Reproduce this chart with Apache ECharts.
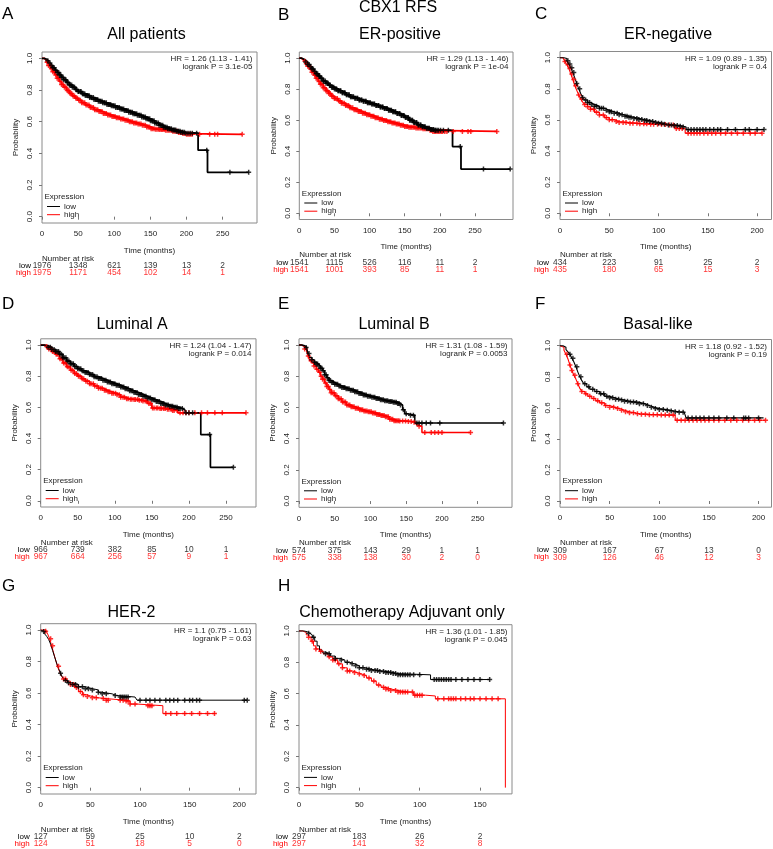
<!DOCTYPE html>
<html><head><meta charset="utf-8">
<script src="https://cdn.jsdelivr.net/npm/echarts@6/dist/echarts.min.js"></script>
<style>html,body{margin:0;padding:0;background:#fff}#c{width:773px;height:849px}</style>
</head><body><div id="c"></div>
<script>
// ---------------- DATA ----------------
const mainTitle = 'CBX1 RFS';
const panelLetters = ['A','B','C','D','E','F','G','H'];
const panelTitles = ['All patients','ER-positive','ER-negative','Luminal A','Luminal B','Basal-like','HER-2','Chemotherapy Adjuvant only'];
const hrTexts = ['HR = 1.26 (1.13 - 1.41)','HR = 1.29 (1.13 - 1.46)','HR = 1.09 (0.89 - 1.35)','HR = 1.24 (1.04 - 1.47)','HR = 1.31 (1.08 - 1.59)','HR = 1.18 (0.92 - 1.52)','HR = 1.1 (0.75 - 1.61)','HR = 1.36 (1.01 - 1.85)'];
const pTexts = ['logrank P = 3.1e-05','logrank P = 1e-04','logrank P = 0.4','logrank P = 0.014','logrank P = 0.0053','logrank P = 0.19','logrank P = 0.63','logrank P = 0.045'];
const yTicks = [0, 0.2, 0.4, 0.6, 0.8, 1.0];
const groupNames = ['low', 'high'];

const timeTicks250 = [0, 50, 100, 150, 200, 250];
const timeTicks200 = [0, 50, 100, 150, 200];
const timeTicks150 = [0, 50, 100, 150];

const riskLowA = [1976, 1348, 621, 139, 13, 2];
const riskHighA = [1975, 1171, 454, 102, 14, 1];
const riskLowB = [1541, 1115, 526, 116, 11, 2];
const riskHighB = [1541, 1001, 393, 85, 11, 1];
const riskLowC = [434, 223, 91, 25, 2];
const riskHighC = [435, 180, 65, 15, 3];
const riskLowD = [966, 739, 382, 85, 10, 1];
const riskHighD = [967, 664, 256, 57, 9, 1];
const riskLowE = [574, 375, 143, 29, 1, 1];
const riskHighE = [575, 338, 138, 30, 2, 0];
const riskLowF = [309, 167, 67, 13, 0];
const riskHighF = [309, 126, 46, 12, 3];
const riskLowG = [127, 59, 25, 10, 2];
const riskHighG = [124, 51, 18, 5, 0];
const riskLowH = [297, 183, 26, 2];
const riskHighH = [297, 141, 32, 8];

// Kaplan-Meier curves: [time (months), survival probability after that time]
const kmLowA = [[0,1],[3,0.995],[6,0.985],[9,0.97],[12,0.955],[15,0.94],[18,0.925],[21,0.91],[24,0.895],[27,0.88],[30,0.865],[34,0.848],[38,0.832],[42,0.818],[46,0.803],[50,0.79],[55,0.777],[60,0.765],[66,0.752],[72,0.74],[78,0.729],[84,0.719],[90,0.709],[96,0.7],[102,0.69],[108,0.68],[114,0.67],[120,0.66],[126,0.65],[132,0.64],[138,0.629],[144,0.618],[150,0.606],[156,0.592],[162,0.578],[168,0.565],[174,0.555],[180,0.548],[186,0.54],[192,0.533],[198,0.527],[216,0.42],[229,0.28],[286,0.28]];
const kmHighA = [[0,1],[3,0.99],[6,0.975],[9,0.955],[12,0.935],[15,0.915],[18,0.895],[21,0.875],[24,0.855],[27,0.835],[30,0.818],[34,0.797],[38,0.778],[42,0.762],[46,0.748],[50,0.735],[55,0.72],[60,0.705],[66,0.69],[72,0.676],[78,0.664],[84,0.652],[90,0.642],[96,0.633],[102,0.625],[108,0.617],[114,0.609],[120,0.6],[126,0.592],[132,0.585],[138,0.577],[144,0.567],[150,0.556],[156,0.552],[162,0.55],[170,0.546],[180,0.54],[188,0.532],[195,0.525],[200,0.52],[277,0.52]];
const kmLowB = [[0,1],[3,0.995],[6,0.985],[9,0.975],[12,0.96],[15,0.945],[18,0.93],[21,0.915],[24,0.9],[27,0.885],[30,0.87],[34,0.853],[38,0.838],[42,0.825],[46,0.813],[50,0.802],[55,0.79],[60,0.778],[66,0.765],[72,0.752],[78,0.741],[84,0.731],[90,0.722],[96,0.713],[102,0.704],[108,0.695],[114,0.686],[120,0.676],[126,0.665],[132,0.654],[138,0.643],[144,0.631],[150,0.618],[156,0.6],[162,0.585],[168,0.57],[174,0.558],[180,0.548],[186,0.54],[192,0.535],[218,0.43],[230,0.285],[300,0.285]];
const kmHighB = [[0,1],[3,0.99],[6,0.98],[9,0.965],[12,0.948],[15,0.93],[18,0.91],[21,0.89],[24,0.87],[27,0.85],[30,0.832],[34,0.81],[38,0.79],[42,0.772],[46,0.755],[50,0.74],[55,0.725],[60,0.71],[66,0.695],[72,0.68],[78,0.668],[84,0.656],[90,0.645],[96,0.635],[102,0.625],[108,0.616],[114,0.607],[120,0.598],[126,0.59],[132,0.583],[138,0.575],[144,0.567],[150,0.56],[156,0.555],[165,0.55],[175,0.545],[185,0.535],[190,0.528],[281,0.528]];
const kmLowC = [[0,1],[4,0.995],[7,0.98],[9,0.96],[11,0.935],[13,0.905],[15,0.87],[17,0.835],[19,0.8],[21,0.77],[23,0.745],[25,0.728],[28,0.712],[31,0.7],[35,0.688],[40,0.675],[45,0.663],[50,0.653],[55,0.643],[60,0.633],[65,0.624],[70,0.617],[75,0.61],[80,0.603],[85,0.597],[90,0.59],[95,0.584],[100,0.578],[105,0.572],[110,0.568],[115,0.565],[120,0.56],[125,0.555],[128,0.538],[207,0.538]];
const kmHighC = [[0,1],[3,0.99],[5,0.975],[7,0.955],[9,0.93],[11,0.895],[13,0.86],[15,0.82],[17,0.79],[19,0.76],[21,0.735],[23,0.715],[25,0.7],[28,0.685],[31,0.668],[35,0.65],[40,0.632],[45,0.615],[50,0.602],[55,0.59],[60,0.583],[70,0.578],[80,0.575],[90,0.572],[100,0.57],[110,0.567],[117,0.545],[127,0.515],[205,0.515]];
const kmLowD = [[0,1],[5,0.995],[10,0.985],[15,0.972],[20,0.958],[25,0.94],[30,0.918],[35,0.897],[40,0.88],[45,0.862],[50,0.848],[55,0.835],[60,0.823],[66,0.81],[72,0.797],[78,0.785],[84,0.774],[90,0.763],[96,0.752],[102,0.741],[108,0.73],[114,0.719],[120,0.707],[126,0.695],[132,0.683],[138,0.671],[144,0.66],[150,0.648],[156,0.637],[162,0.625],[168,0.615],[174,0.607],[180,0.6],[186,0.592],[192,0.58],[195,0.565],[216,0.425],[229,0.215],[260,0.215]];
const kmHighD = [[0,1],[5,0.99],[10,0.975],[15,0.958],[20,0.94],[25,0.912],[30,0.885],[35,0.86],[40,0.838],[45,0.817],[50,0.8],[55,0.783],[60,0.768],[66,0.752],[72,0.737],[78,0.722],[84,0.71],[90,0.7],[96,0.69],[102,0.68],[108,0.665],[114,0.655],[120,0.652],[126,0.65],[132,0.646],[138,0.64],[144,0.625],[150,0.595],[160,0.592],[170,0.588],[178,0.58],[185,0.565],[277,0.565]];
const kmLowE = [[0,1],[4,0.995],[8,0.985],[11,0.97],[13,0.945],[15,0.92],[18,0.905],[21,0.89],[24,0.878],[27,0.866],[30,0.852],[33,0.835],[36,0.81],[39,0.79],[42,0.772],[45,0.76],[50,0.748],[55,0.738],[60,0.728],[66,0.72],[72,0.71],[78,0.7],[84,0.69],[90,0.68],[96,0.672],[102,0.665],[108,0.658],[114,0.65],[120,0.643],[126,0.638],[132,0.633],[138,0.625],[142,0.615],[145,0.585],[148,0.56],[152,0.55],[162,0.5],[286,0.5]];
const kmHighE = [[0,1],[4,0.99],[8,0.975],[11,0.955],[13,0.93],[15,0.9],[18,0.885],[21,0.865],[24,0.845],[27,0.825],[30,0.8],[33,0.78],[36,0.757],[39,0.735],[42,0.715],[45,0.695],[50,0.675],[55,0.655],[60,0.635],[66,0.615],[72,0.605],[78,0.595],[84,0.585],[90,0.578],[96,0.572],[102,0.565],[108,0.555],[114,0.548],[120,0.54],[126,0.525],[132,0.515],[140,0.513],[150,0.51],[158,0.505],[164,0.49],[166,0.48],[172,0.44],[240,0.44]];
const kmLowF = [[0,1],[3,0.99],[6,0.975],[8,0.96],[10,0.945],[12,0.92],[14,0.895],[16,0.865],[18,0.83],[20,0.8],[22,0.775],[24,0.755],[27,0.735],[30,0.72],[35,0.705],[40,0.69],[45,0.675],[50,0.665],[55,0.655],[60,0.65],[65,0.642],[70,0.638],[75,0.635],[80,0.627],[85,0.615],[90,0.603],[95,0.595],[100,0.59],[105,0.585],[110,0.58],[115,0.575],[120,0.572],[125,0.565],[127,0.535],[205,0.535]];
const kmHighF = [[0,1],[2,0.99],[4,0.97],[6,0.945],[8,0.915],[10,0.875],[12,0.84],[14,0.81],[16,0.785],[18,0.755],[20,0.725],[22,0.705],[25,0.69],[28,0.675],[32,0.66],[36,0.645],[40,0.632],[45,0.615],[50,0.603],[55,0.595],[60,0.585],[65,0.575],[70,0.568],[75,0.562],[80,0.558],[90,0.555],[100,0.553],[110,0.553],[116,0.52],[207,0.52]];
const kmLowG = [[0,1],[2,0.99],[4,0.975],[6,0.96],[8,0.94],[10,0.91],[12,0.87],[14,0.83],[16,0.79],[18,0.755],[20,0.725],[22,0.7],[24,0.68],[27,0.665],[32,0.655],[38,0.64],[45,0.628],[52,0.62],[58,0.605],[62,0.595],[72,0.585],[76,0.575],[95,0.575],[97,0.555],[208,0.555]];
const kmHighG = [[0,1],[5,0.992],[7,0.975],[9,0.945],[11,0.9],[13,0.855],[15,0.81],[17,0.77],[19,0.735],[21,0.705],[23,0.69],[26,0.675],[30,0.655],[34,0.635],[38,0.61],[42,0.59],[46,0.578],[52,0.57],[58,0.565],[66,0.555],[85,0.55],[90,0.53],[98,0.52],[123,0.47],[176,0.47]];
const kmLowH = [[0,1],[4,0.995],[7,0.985],[9,0.975],[11,0.96],[13,0.935],[15,0.905],[17,0.88],[19,0.865],[22,0.855],[26,0.84],[30,0.825],[34,0.815],[38,0.8],[42,0.79],[46,0.778],[50,0.765],[55,0.755],[60,0.748],[66,0.742],[72,0.735],[78,0.728],[82,0.72],[109,0.69],[158,0.69]];
const kmHighH = [[0,1],[3,0.99],[6,0.975],[8,0.96],[10,0.935],[12,0.905],[14,0.885],[17,0.87],[20,0.855],[24,0.835],[28,0.815],[32,0.79],[36,0.765],[40,0.745],[44,0.735],[48,0.725],[52,0.715],[56,0.7],[60,0.68],[64,0.655],[68,0.64],[72,0.63],[76,0.62],[82,0.61],[90,0.61],[95,0.59],[105,0.585],[113,0.567],[171,0]];

// censoring times (months)
const censLowA = [8,11,13,15,17,19,21,23,24,26,27,29,30,32,33,35,36,38,39,41,42,44,45,47,48,50,51,53,54,56,57,59,60,62,63,65,66,68,69,71,72,74,75,77,78,80,81,83,84,86,87,89,90,92,93,95,96,98,99,101,102,104,105,107,108,110,111,113,114,116,117,119,120,122,123,125,126,128,129,131,132,134,135,137,138,140,141,143,144,146,147,149,150,152,153,155,156,158,159,161,162,164,165,167,168,170,171,173,174,176,177,179,180,182,183,185,186,188,189,191,192,194,195,197,199,202,205,208,214,228,260,286];
const censHighA = [7,9,11,13,15,17,19,21,23,25,27,29,31,33,35,37,39,41,43,45,47,49,51,53,55,57,59,61,63,65,67,69,71,73,75,77,79,81,83,85,87,89,91,93,95,97,99,101,103,105,107,109,111,113,115,117,119,121,123,125,127,129,131,133,135,137,139,141,143,145,147,149,151,153,155,157,159,161,163,165,167,169,171,173,175,177,179,181,183,185,187,189,191,193,195,197,200,202,204,206,208,218,232,239,243,277];
const censLowB = [9,12,14,16,18,20,22,24,26,28,29,31,32,34,35,37,38,40,41,43,44,46,47,49,50,52,53,55,56,58,59,61,62,64,65,67,68,70,71,73,74,76,77,79,80,82,83,85,86,88,89,91,92,94,95,97,98,100,101,103,104,106,107,109,110,112,113,115,116,118,119,121,122,124,125,127,128,130,131,133,134,136,137,139,140,142,143,145,146,148,149,151,152,154,155,157,158,160,161,163,164,166,167,169,170,172,173,175,176,178,179,181,182,184,185,187,188,190,191,193,194,196,198,201,205,212,229,262,300];
const censHighB = [8,10,12,14,16,18,20,22,24,26,28,30,32,34,36,38,40,42,44,46,48,50,52,54,56,58,60,62,64,66,68,70,72,74,76,78,80,82,84,86,88,90,92,94,96,98,100,102,104,106,108,110,112,114,116,118,120,122,124,126,128,130,132,134,136,138,140,142,144,146,148,150,152,154,156,158,160,162,164,166,168,170,172,174,176,178,180,182,184,186,188,190,192,194,196,198,200,202,204,207,210,219,232,240,244,281];
const censLowC = [8,10,12,14,17,20,23,26,28,30,32,35,37,40,42,44,47,50,52,55,58,60,63,66,68,70,72,75,78,80,83,86,88,91,94,97,100,103,106,110,113,116,119,122,125,130,133,136,139,142,145,148,152,156,160,163,170,178,188,192,200,207];
const censHighC = [5,8,10,12,14,16,19,22,25,28,31,34,37,40,44,47,50,53,57,60,64,67,71,74,78,81,85,88,92,95,99,103,107,111,115,118,121,124,130,133,136,139,142,146,150,154,158,163,168,174,180,186,193,198,205];
const censLowD = [10,13,15,18,20,22,24,26,28,30,32,34,36,38,40,42,44,46,48,50,52,54,56,58,60,62,64,66,68,70,72,74,76,78,80,82,84,86,88,90,92,94,96,98,100,102,104,106,108,110,112,114,116,118,120,122,124,126,128,130,132,134,136,138,140,142,144,146,148,150,152,154,156,158,160,162,164,166,168,170,172,174,176,178,180,182,184,186,188,191,196,200,205,228,260];
const censHighD = [8,11,14,16,18,21,23,26,28,31,33,36,38,41,43,46,48,51,53,56,58,61,63,66,68,71,73,76,78,81,83,86,88,91,93,96,98,101,103,106,108,111,113,116,118,121,123,126,128,131,133,136,138,141,143,146,148,151,153,156,158,161,163,166,168,171,173,176,178,180,184,188,192,196,200,208,217,225,235,245,277];
const censLowE = [10,14,18,22,24,26,28,30,32,34,36,38,40,42,44,46,48,50,52,54,56,58,60,62,64,66,68,70,72,74,76,78,80,82,84,86,88,90,92,94,96,98,100,102,104,106,108,110,112,114,116,118,120,122,124,126,128,130,132,134,136,138,140,142,146,150,156,160,165,168,172,178,184,197,286];
const censHighE = [8,13,17,21,25,29,31,33,35,37,39,41,43,45,47,49,51,53,55,57,59,61,63,65,67,69,71,73,75,77,79,81,83,85,87,89,91,93,95,97,99,101,103,105,107,109,111,113,115,117,119,121,123,125,127,129,131,133,135,137,139,141,145,149,153,157,161,168,176,185,190,195,200,240];
const censLowF = [10,13,17,21,25,29,33,37,41,44,47,50,53,56,59,62,65,68,71,74,77,80,84,88,92,96,100,104,108,112,116,120,124,129,133,137,141,145,150,155,160,168,175,185,187,190,200];
const censHighF = [7,10,12,15,18,22,26,30,34,38,42,46,50,54,58,62,66,70,74,78,82,86,90,94,98,102,106,110,114,118,122,126,130,134,138,142,146,150,155,160,166,172,178,184,190,196,201,207];
const censLowG = [3,20,25,28,32,35,38,42,45,48,52,58,62,66,75,80,82,84,86,88,100,106,110,115,120,126,130,134,138,145,150,153,157,160,205,208];
const censHighG = [5,10,12,18,23,25,30,33,36,40,43,47,52,56,63,66,68,80,83,86,88,90,95,108,110,112,126,131,137,145,152,160,168,175];
const censLowH = [8,12,22,25,30,35,40,44,47,50,53,56,58,60,63,65,67,70,72,74,76,78,80,82,84,86,88,90,92,95,100,112,114,116,118,120,122,124,126,130,135,140,145,150,158];
const censHighH = [8,11,14,18,25,28,30,33,36,40,42,46,50,54,58,62,66,70,72,74,76,80,82,84,86,88,90,94,96,98,100,102,115,120,124,126,128,130,134,138,142,145,150,155,160,165];

// ---------------- ASSEMBLY ----------------
const panelData = [
  {ticks: timeTicks250, rl: riskLowA, rh: riskHighA, low: kmLowA, high: kmHighA, cl: censLowA, ch: censHighA},
  {ticks: timeTicks250, rl: riskLowB, rh: riskHighB, low: kmLowB, high: kmHighB, cl: censLowB, ch: censHighB},
  {ticks: timeTicks200, rl: riskLowC, rh: riskHighC, low: kmLowC, high: kmHighC, cl: censLowC, ch: censHighC},
  {ticks: timeTicks250, rl: riskLowD, rh: riskHighD, low: kmLowD, high: kmHighD, cl: censLowD, ch: censHighD},
  {ticks: timeTicks250, rl: riskLowE, rh: riskHighE, low: kmLowE, high: kmHighE, cl: censLowE, ch: censHighE},
  {ticks: timeTicks200, rl: riskLowF, rh: riskHighF, low: kmLowF, high: kmHighF, cl: censLowF, ch: censHighF},
  {ticks: timeTicks200, rl: riskLowG, rh: riskHighG, low: kmLowG, high: kmHighG, cl: censLowG, ch: censHighG},
  {ticks: timeTicks150, rl: riskLowH, rh: riskHighH, low: kmLowH, high: kmHighH, cl: censLowH, ch: censHighH}
];

// layout (pixels) – box of each panel, axis range and text anchors
const layout = [
  {left: 42,   top: 52,    w: 215,   h: 171,   xmax: 297.5, lx: 2,   ly: 14,  tx: 146.5, ty: 35,  lw: 1.8},
  {left: 299.3,top: 52,    w: 213.7, h: 167.5, xmax: 304,   lx: 278, ly: 15,  tx: 400,   ty: 35,  lw: 1.8},
  {left: 560,  top: 51.5,  w: 211.5, h: 168,   xmax: 214.6, lx: 535, ly: 14,  tx: 668,   ty: 35,  lw: 1.1},
  {left: 40.7, top: 338.8, w: 215.3, h: 168.2, xmax: 290.5, lx: 2,   ly: 304, tx: 132,   ty: 325, lw: 1.7},
  {left: 299,  top: 338.8, w: 213,   h: 168.5, xmax: 298,   lx: 278, ly: 304, tx: 394,   ty: 325, lw: 1.5},
  {left: 560,  top: 339.5, w: 211.5, h: 167.7, xmax: 213,   lx: 535, ly: 304, tx: 658,   ty: 325, lw: 1.1},
  {left: 40.7, top: 623.7, w: 215.3, h: 170.3, xmax: 216.8, lx: 2,   ly: 586, tx: 131.5, ty: 613, lw: 1},
  {left: 299,  top: 624.7, w: 213,   h: 169.2, xmax: 176.5, lx: 278, ly: 586, tx: 402,   ty: 613, lw: 1}
];

const FONT = '"Liberation Sans", Arial, Helvetica, sans-serif';
const RED = '#ff0000';
const BLACK = '#000000';
const plusPath = 'path://M3.5,0H6.5V3.5H10V6.5H6.5V10H3.5V6.5H0V3.5H3.5Z';

function stepAt(curve, t) {
  let p = curve[0][1];
  for (const pt of curve) { if (pt[0] <= t) p = pt[1]; }
  return p;
}

const grids = [], xAxes = [], yAxes = [], series = [], graphics = [];

graphics.push({type: 'text', x: 398, y: 8, style: {text: mainTitle, fontSize: 16, fontFamily: FONT, fill: '#000', align: 'center', verticalAlign: 'middle'}});

panelData.forEach((d, i) => {
  const L = layout[i];
  const bottom = L.top + L.h;
  const right = L.left + L.w;
  const mi = 2 * i, ri = 2 * i + 1;

  grids.push({left: L.left, top: L.top, width: L.w, height: L.h, show: true, borderColor: '#8a8a8a', borderWidth: 1, backgroundColor: 'transparent', containLabel: false, outerBoundsMode: 'none'});
  grids.push({left: L.left, top: bottom + 39.5, width: L.w, height: 14, show: false, containLabel: false, outerBoundsMode: 'none'});

  xAxes.push({
    gridIndex: mi, type: 'value', min: 0, max: L.xmax,
    axisLine: {show: false},
    axisTick: {show: true, customValues: d.ticks, length: 3, lineStyle: {color: '#777', width: 1}},
    axisLabel: {show: true, customValues: d.ticks, fontSize: 8, fontFamily: FONT, color: '#222', margin: 7},
    splitLine: {show: false},
    name: 'Time (months)', nameLocation: 'middle', nameGap: 23.5,
    nameTextStyle: {fontSize: 8, fontFamily: FONT, color: '#222'}
  });
  xAxes.push({gridIndex: ri, type: 'value', min: 0, max: L.xmax, show: false});

  yAxes.push({
    gridIndex: mi, type: 'value', min: -0.04, max: 1.04,
    axisLine: {show: false},
    axisTick: {show: true, customValues: yTicks, length: 3, lineStyle: {color: '#777', width: 1}},
    axisLabel: {show: true, customValues: yTicks, rotate: 90, fontSize: 8, fontFamily: FONT, color: '#222', margin: 8,
      formatter: v => Number(v).toFixed(1)},
    splitLine: {show: false},
    name: 'Probability', nameLocation: 'middle', nameGap: 22,
    nameTextStyle: {fontSize: 8, fontFamily: FONT, color: '#222'}
  });
  yAxes.push({
    gridIndex: ri, type: 'category', data: ['high', 'low'],
    axisLine: {show: false}, axisTick: {show: false}, splitLine: {show: false},
    axisLabel: {show: true, interval: 0, margin: 11, fontSize: 8, fontFamily: FONT,
      formatter: v => v === 'low' ? '{l|low}' : '{h|high}',
      rich: {l: {color: BLACK, fontSize: 8, fontFamily: FONT}, h: {color: RED, fontSize: 8, fontFamily: FONT}}}
  });

  // KM step curves
  series.push({type: 'line', name: groupNames[0], xAxisIndex: mi, yAxisIndex: mi, data: d.low, step: 'end',
    symbol: 'none', lineStyle: {color: BLACK, width: L.lw}, itemStyle: {color: BLACK}, silent: true, z: 3});
  series.push({type: 'line', name: groupNames[1], xAxisIndex: mi, yAxisIndex: mi, data: d.high, step: 'end',
    symbol: 'none', lineStyle: {color: RED, width: L.lw}, itemStyle: {color: RED}, silent: true, z: 2});
  // censor marks
  series.push({type: 'scatter', name: 'cens-low', xAxisIndex: mi, yAxisIndex: mi,
    data: d.cl.map(t => [t, stepAt(d.low, t)]), symbol: plusPath, symbolSize: 5,
    itemStyle: {color: BLACK}, silent: true, z: 4});
  series.push({type: 'scatter', name: 'cens-high', xAxisIndex: mi, yAxisIndex: mi,
    data: d.ch.map(t => [t, stepAt(d.high, t)]), symbol: plusPath, symbolSize: 5,
    itemStyle: {color: RED}, silent: true, z: 3});
  // number at risk
  series.push({type: 'scatter', name: 'risk-low', xAxisIndex: ri, yAxisIndex: ri,
    data: d.rl.map((n, j) => [d.ticks[j], 1, n]), symbolSize: 1, itemStyle: {color: 'rgba(0,0,0,0)'}, silent: true,
    label: {show: true, position: 'inside', formatter: p => String(p.value[2]), color: BLACK, fontSize: 8.4, fontFamily: FONT}});
  series.push({type: 'scatter', name: 'risk-high', xAxisIndex: ri, yAxisIndex: ri,
    data: d.rh.map((n, j) => [d.ticks[j], 0, n]), symbolSize: 1, itemStyle: {color: 'rgba(0,0,0,0)'}, silent: true,
    label: {show: true, position: 'inside', formatter: p => String(p.value[2]), color: RED, fontSize: 8.4, fontFamily: FONT}});

  // legend (drawn)
  const lgY = [bottom - 16.5, bottom - 8.3];
  graphics.push({type: 'text', x: L.left + 2.5, y: bottom - 26, style: {text: 'Expression', fontSize: 8, fontFamily: FONT, fill: '#222', align: 'left', verticalAlign: 'middle'}});
  groupNames.forEach((g, k) => {
    const col = k === 0 ? BLACK : RED;
    graphics.push({type: 'line', shape: {x1: L.left + 5, y1: lgY[k], x2: L.left + 18, y2: lgY[k]}, style: {stroke: col, lineWidth: 1}});
    graphics.push({type: 'text', x: L.left + 22, y: lgY[k], style: {text: g, fontSize: 8, fontFamily: FONT, fill: '#222', align: 'left', verticalAlign: 'middle'}});
  });

  graphics.push({type: 'text', x: L.lx, y: L.ly, style: {text: panelLetters[i], fontSize: 17, fontFamily: FONT, fill: '#000', align: 'left', verticalAlign: 'middle'}});
  graphics.push({type: 'text', x: L.tx, y: L.ty, style: {text: panelTitles[i], fontSize: 16, fontFamily: FONT, fill: '#000', align: 'center', verticalAlign: 'middle'}});
  graphics.push({type: 'text', x: right - 4.5, y: L.top + 7, style: {text: hrTexts[i], fontSize: 8, fontFamily: FONT, fill: '#222', align: 'right', verticalAlign: 'middle'}});
  graphics.push({type: 'text', x: right - 4.5, y: L.top + 15, style: {text: pTexts[i], fontSize: 8, fontFamily: FONT, fill: '#222', align: 'right', verticalAlign: 'middle'}});
  graphics.push({type: 'text', x: L.left, y: bottom + 35.5, style: {text: 'Number at risk', fontSize: 8, fontFamily: FONT, fill: '#222', align: 'left', verticalAlign: 'middle'}});
});

const chart = echarts.init(document.getElementById('c'), null, {renderer: 'canvas', width: 773, height: 849});
chart.setOption({
  backgroundColor: '#ffffff',
  animation: false,
  textStyle: {fontFamily: FONT},
  grid: grids,
  xAxis: xAxes,
  yAxis: yAxes,
  series: series,
  graphic: graphics
});
</script>
</body></html>
